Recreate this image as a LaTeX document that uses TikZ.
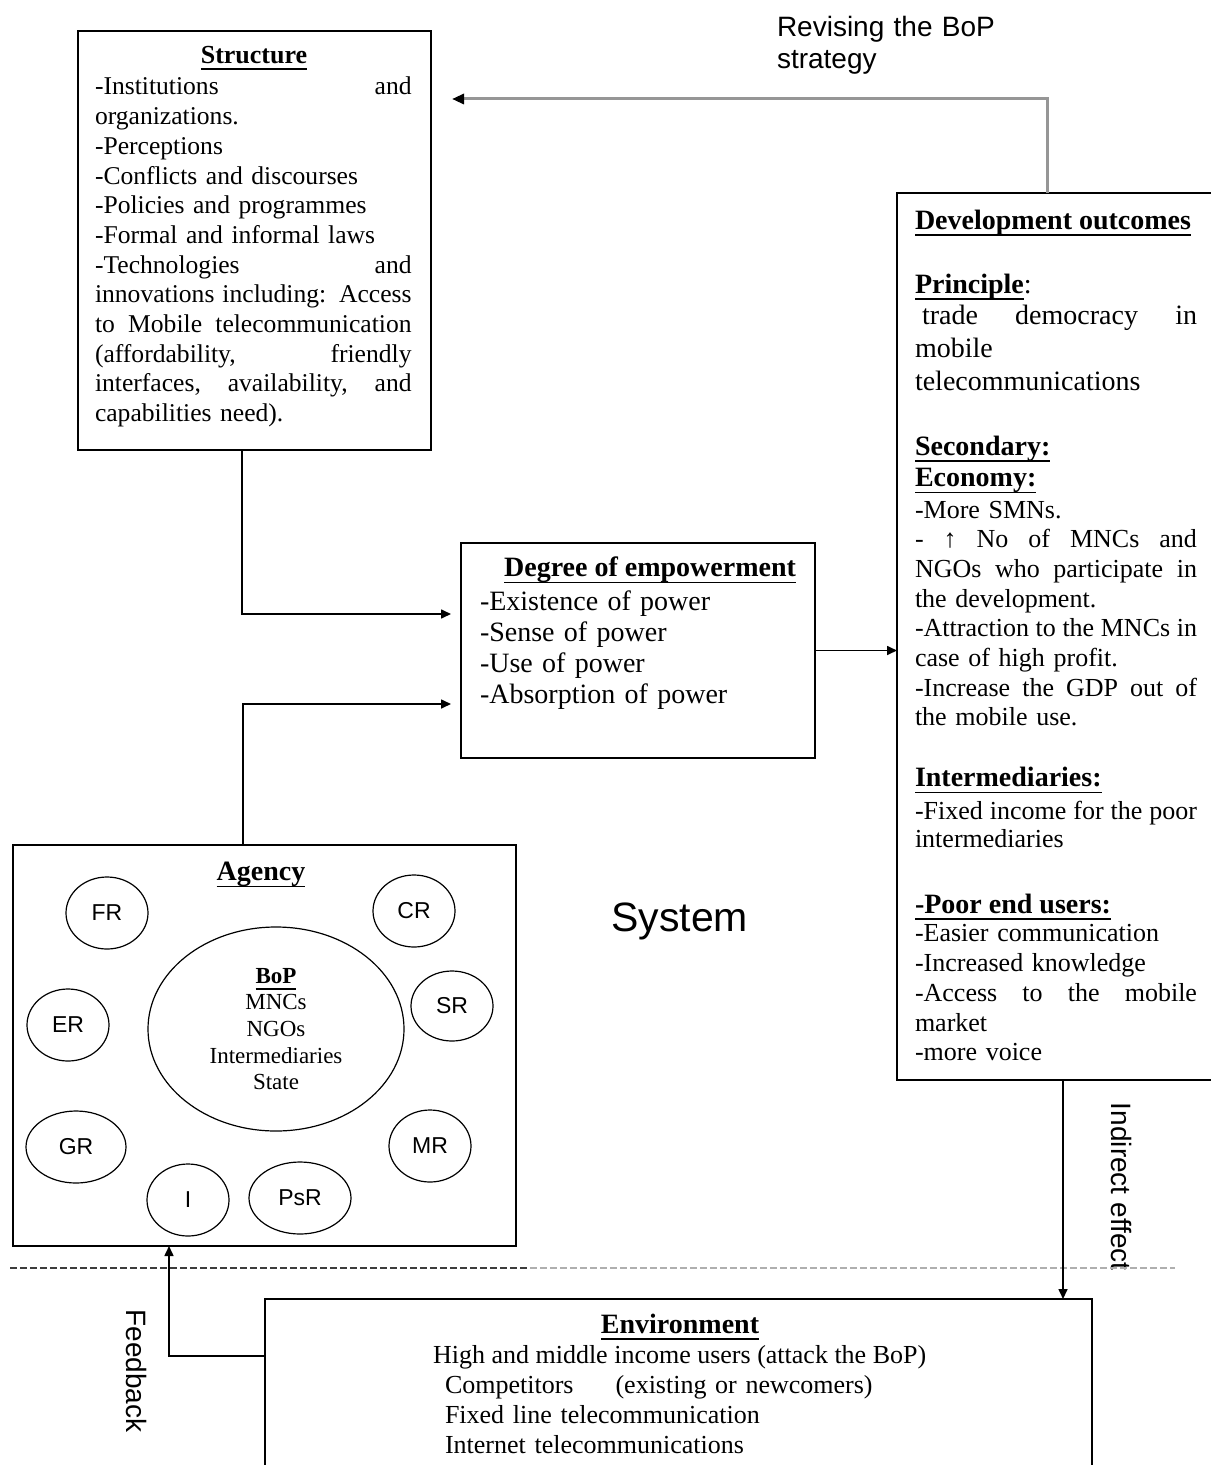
\documentclass[tikz,border=0pt]{standalone}
\usepackage{fontspec}
\setmainfont{Liberation Serif}
\setsansfont{Liberation Sans}
\usetikzlibrary{arrows.meta,shapes.geometric}
\definecolor{revgray}{RGB}{150,150,150}
\definecolor{sepdark}{RGB}{60,60,60}
\definecolor{seplight}{RGB}{175,175,175}
\newcommand{\jl}[1]{\leavevmode\hbox to \hsize{\spaceskip=0.25em plus 1fil\relax #1}}
\newcommand{\uln}[1]{\leavevmode\begingroup\setbox0=\hbox{#1}\rlap{\rule[-3.3pt]{\wd0}{0.9pt}}\box0\endgroup}
\begin{document}
\begin{tikzpicture}[x=0.5pt,y=-0.5pt,
  box/.style={draw, line width=0.9pt, inner sep=0pt, outer sep=0pt, anchor=north west},
  conn/.style={line width=0.8pt, -{Triangle[length=5pt,width=4.5pt]}},
  ell/.style={draw, ellipse, line width=0.6pt, inner sep=0pt, outer sep=0pt, font=\sffamily\fontsize{11.5}{13}\selectfont},
  body/.style={inner sep=0pt, outer sep=0pt, anchor=base west, align=left},
  hd/.style={inner sep=0pt, outer sep=0pt, anchor=base west, font=\fontsize{14}{16}\selectfont\bfseries},
  side/.style={inner sep=0pt, outer sep=0pt, font=\sffamily\fontsize{14}{16}\selectfont}]
\useasboundingbox (0,0) rectangle (1210,1465);

% ---------- boxes ----------
\node[box, minimum width=176.5pt, minimum height=209.5pt] (struct) at (78,31) {};
\node[box, minimum width=177pt, minimum height=107.5pt] (deg) at (461,543) {};
\node[box, minimum width=159pt, minimum height=443.5pt] (dev) at (897,193) {};
\node[box, minimum width=251.5pt, minimum height=200.5pt] (agency) at (13,845) {};
\node[box, minimum width=413.5pt, minimum height=88pt] (env) at (265,1299) {};

% ---------- Structure ----------
\node[hd, anchor=base, font=\fontsize{13}{15}\selectfont\bfseries] (structt) at (254,63.3) {\uln{Structure}};
\node[body, text width=158.3pt, font=\fontsize{12.8}{14.85}\selectfont] (structb) at (95,95) {%
\jl{-Institutions and}\\
organizations.\\
-Perceptions\\
-Conflicts and discourses\\
-Policies and programmes\\
-Formal and informal laws\\
\jl{-Technologies and}\\
\jl{innovations including: Access}\\
\jl{to Mobile telecommunication}\\
\jl{(affordability, friendly}\\
\jl{interfaces, availability, and}\\
capabilities need).};

% ---------- Degree of empowerment ----------
\node[hd, anchor=base] (degt) at (650,576.7) {\uln{Degree of empowerment}};
\node[body, text width=160pt, font=\fontsize{14}{15.55}\selectfont] (degb) at (480,610) {%
-Existence of power\\
-Sense of power\\
-Use of power\\
-Absorption of power};

% ---------- Development outcomes ----------
\node[hd] (devt) at (915,229.3) {\uln{Development outcomes}};
\node[hd] (prin) at (915,293.3) {\uln{Principle}\mdseries:};
\node[body, text width=141pt, font=\fontsize{14}{16.25}\selectfont] (prinb) at (915,325) {%
\jl{\hspace*{3.5pt}trade democracy in}\\
mobile\\
telecommunications};
\node[body, text width=141pt, font=\fontsize{14}{15.85}\selectfont\bfseries] (sec) at (915,455) {%
\uln{Secondary:}\\
\uln{Economy:}};
\node[body, text width=141pt, font=\fontsize{13}{14.83}\selectfont] (econ) at (915,518.3) {%
-More SMNs.\\
\jl{- ↑ No of MNCs and}\\
\jl{NGOs who participate in}\\
the development.\\
\jl{-Attraction to the MNCs in}\\
case of high profit.\\
\jl{-Increase the GDP out of}\\
the mobile use.};
\node[hd] (inter) at (915,786.7) {\uln{Intermediaries:}};
\node[body, text width=141pt, font=\fontsize{13}{14.2}\selectfont] (interb) at (915,819.3) {%
\jl{-Fixed income for the poor}\\
intermediaries};
\node[hd] (poor) at (915,913.3) {\uln{-Poor end users:}};
\node[body, text width=141pt, font=\fontsize{13}{14.9}\selectfont] (poorb) at (915,941.7) {%
-Easier communication\\
-Increased knowledge\\
\jl{-Access to the mobile}\\
market\\
-more voice};

% ---------- Agency ----------
\node[hd, anchor=base] (agt) at (261,880.7) {\uln{Agency}};
\node[ell, minimum width=128pt, minimum height=102pt, font=\fontsize{11.5}{13.3}\selectfont, align=center] (bop) at (276,1029) {%
\textbf{\uln{BoP}}\\MNCs\\NGOs\\Intermediaries\\State};
\node[ell, minimum width=41pt, minimum height=36pt] (fr) at (107,913) {FR};
\node[ell, minimum width=41pt, minimum height=36pt] (cr) at (414,911) {CR};
\node[ell, minimum width=41pt, minimum height=35pt] (sr) at (452,1006) {SR};
\node[ell, minimum width=41pt, minimum height=36pt] (er) at (68,1025) {ER};
\node[ell, minimum width=50pt, minimum height=36pt] (gr) at (76,1147) {GR};
\node[ell, minimum width=41pt, minimum height=36pt] (mr) at (430,1146) {MR};
\node[ell, minimum width=41pt, minimum height=36pt] (ii) at (188,1200) {I};
\node[ell, minimum width=51pt, minimum height=36pt] (psr) at (300,1198) {PsR};

% ---------- Environment ----------
\node[hd, anchor=base] (envt) at (680,1333) {\uln{Environment}};
\node[body, font=\fontsize{13}{15}\selectfont] (env1) at (433,1363) {High and middle income users (attack the BoP)};
\node[body, text width=300pt, font=\fontsize{13}{15}\selectfont] (env2) at (445,1393) {%
Competitors\hspace{21pt}(existing or newcomers)\\
Fixed line telecommunication\\
Internet telecommunications};

% ---------- free labels ----------
\node[side, anchor=base west, align=left, font=\sffamily\fontsize{14}{15.8}\selectfont, text width=120pt] (rev) at (777,36.7) {Revising the BoP\\strategy};
\node[inner sep=0pt, anchor=base west, font=\sffamily\fontsize{20.5}{24}\selectfont] (sys) at (611,931.7) {System};
\node[side, rotate=-90] (feed) at (136.7,1370.8) {Feedback};
\node[side, rotate=-90] (ind) at (1121.7,1186.7) {Indirect effect};

% ---------- separator ----------
\coordinate (sepA) at (10,1267.5);
\coordinate (sepB) at (530,1267.5);
\coordinate (sepC) at (1175,1267.5);
\draw[sepdark, line width=1pt, dash pattern=on 3.5pt off 1.5pt] (sepA) -- (sepB);
\draw[seplight, line width=1pt, dash pattern=on 3.5pt off 1.5pt] (sepB) -- (sepC);

% ---------- connectors ----------
\coordinate (c1) at (242,614);
\coordinate (c2) at (243,704);
\coordinate (c4) at (1063,1080);
\coordinate (c5) at (169,1356);
\coordinate (c6) at (1047,99);
\draw[conn, shorten >=5pt] (struct.south -| c1) -- (c1) -- (c1 -| deg.west);
\draw[conn, shorten >=5pt] (agency.north -| c2) -- (c2) -- (c2 -| deg.west);
\draw[conn] (deg.east) -- (deg.east -| dev.west);
\draw[conn] (dev.south -| c4) -- (env.north -| c4);
\draw[conn] (c5 -| env.west) -- (c5) -- (agency.south -| c5);
\draw[revgray, line width=1.5pt, -{Triangle[length=6pt,width=5pt,color=black]}, shorten >=10.5pt]
  (dev.north -| c6) -- (c6) -- (c6 -| struct.east);
\end{tikzpicture}
\end{document}
